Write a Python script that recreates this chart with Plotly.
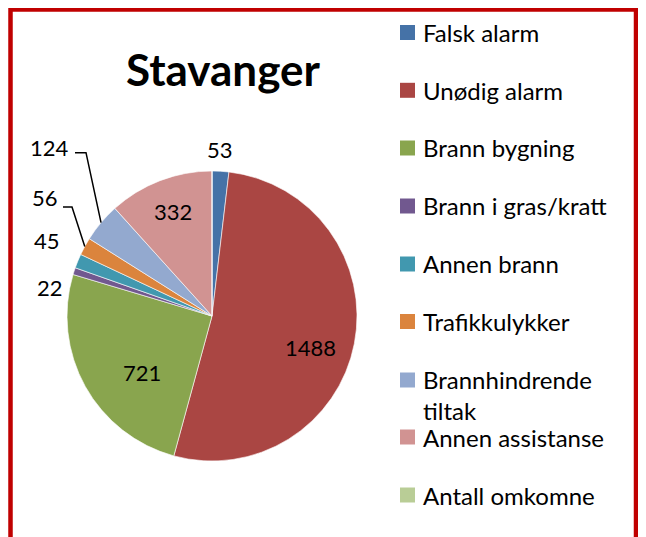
import math
import plotly.graph_objects as go

labels = ["Falsk alarm", "Unødig alarm", "Brann bygning", "Brann i gras/kratt",
          "Annen brann", "Trafikkulykker", "Brannhindrende tiltak",
          "Annen assistanse", "Antall omkomne"]
legend_text = ["Falsk alarm", "Unødig alarm", "Brann bygning", "Brann i gras/kratt",
               "Annen brann", "Trafikkulykker", "Brannhindrende<br>tiltak",
               "Annen assistanse", "Antall omkomne"]
values = [53, 1488, 721, 22, 45, 56, 124, 332, 0]
colors = ["#4572A7", "#AA4643", "#89A54E", "#71588F", "#4198AF",
          "#DB843D", "#93A9CF", "#D19392", "#B9CD96"]
title = "Stavanger"

# ---- layout / style (pixel positions in the 646x537 picture) ----
W, H = 646, 537
OFF = 8  # page body margin
FONT = "Lato, Calibri, sans-serif"
CX, CY, R = 212, 316, 145          # pie centre / radius in pixels

# label placement: polar (radius fraction, angle nudge in degrees)
# or fixed pixel spot with a leader-line elbow
label_style = [
    dict(kind="polar", r=1.15, da=-0.5),
    dict(kind="polar", r=0.71, da=6.6),
    dict(kind="polar", r=0.62, da=-9.7),
    dict(kind="fixed", xy=(50, 287)),
    dict(kind="fixed", xy=(47, 240)),
    dict(kind="fixed", xy=(44.5, 198), leader=((63, 207), (72, 207))),
    dict(kind="fixed", xy=(49, 147), leader=((75, 152.7), (86, 152.7))),
    dict(kind="polar", r=0.77, da=0.5),
    None,
]
legend_y = [32.5, 90.3, 148, 206, 264, 321.5, 395, 437, 495]
legend_marker_y = [32.5, 90.3, 148, 206, 264, 321.5, 380, 437, 495]


def xp(x):
    return (x - OFF) / W


def yp(y):
    return 1 - (y - OFF) / H


fig = go.Figure()
fig.add_trace(go.Pie(
    labels=labels, values=values, sort=False, direction="clockwise",
    marker=dict(colors=colors, line=dict(color="white", width=0.6)),
    textinfo="none", showlegend=False, hoverinfo="label+value",
    domain=dict(x=[xp(CX - R), xp(CX + R)], y=[yp(CY + R), yp(CY - R)]),
))

shapes = []
annotations = []

# data labels, angles derived from the values
total = sum(values)
cum = 0
for v, st in zip(values, label_style):
    a0 = cum / total * 2 * math.pi
    cum += v
    a1 = cum / total * 2 * math.pi
    if st is None:
        continue
    mid = (a0 + a1) / 2
    ex, ey = CX + R * math.sin(mid), CY - R * math.cos(mid)
    if st["kind"] == "polar":
        ang = mid + math.radians(st.get("da", 0))
        lx = CX + st["r"] * R * math.sin(ang)
        ly = CY - st["r"] * R * math.cos(ang)
    else:
        lx, ly = st["xy"]
        if "leader" in st:
            (p0, p1) = st["leader"]
            path = "M {},{} L {},{} L {},{}".format(
                xp(p0[0]), yp(p0[1]), xp(p1[0]), yp(p1[1]), xp(ex), yp(ey))
            shapes.append(dict(type="path", xref="paper", yref="paper", path=path,
                               line=dict(color="black", width=1.5)))
    annotations.append(dict(x=xp(lx), y=yp(ly), xref="paper", yref="paper",
                            xanchor="center", yanchor="middle", text=str(v),
                            showarrow=False,
                            font=dict(family=FONT, size=22, color="black")))

# custom legend
for t, c, yc, ym in zip(legend_text, colors, legend_y, legend_marker_y):
    shapes.append(dict(type="rect", xref="paper", yref="paper",
                       x0=xp(400), x1=xp(415), y0=yp(ym + 7.5), y1=yp(ym - 7.5),
                       fillcolor=c, line=dict(width=0)))
    annotations.append(dict(x=xp(421), y=yp(yc), xref="paper", yref="paper",
                            xanchor="left", yanchor="middle", text=t, showarrow=False,
                            align="left",
                            font=dict(family=FONT, size=24, color="black")))

annotations.append(dict(x=xp(222.5), y=yp(69), xref="paper", yref="paper",
                        xanchor="center", yanchor="middle",
                        text="<b>" + title + "</b>", showarrow=False,
                        font=dict(family=FONT, size=44, color="black")))

shapes.append(dict(type="rect", xref="paper", yref="paper",
                   x0=xp(10.5), x1=xp(636), y0=-0.1, y1=yp(9.5),
                   line=dict(color="#C00000", width=4.5), fillcolor="rgba(0,0,0,0)"))

fig.update_layout(width=W, height=H, margin=dict(l=0, r=0, t=0, b=0),
                  paper_bgcolor="white", plot_bgcolor="white",
                  shapes=shapes, annotations=annotations)
fig.write_html("out.html")
